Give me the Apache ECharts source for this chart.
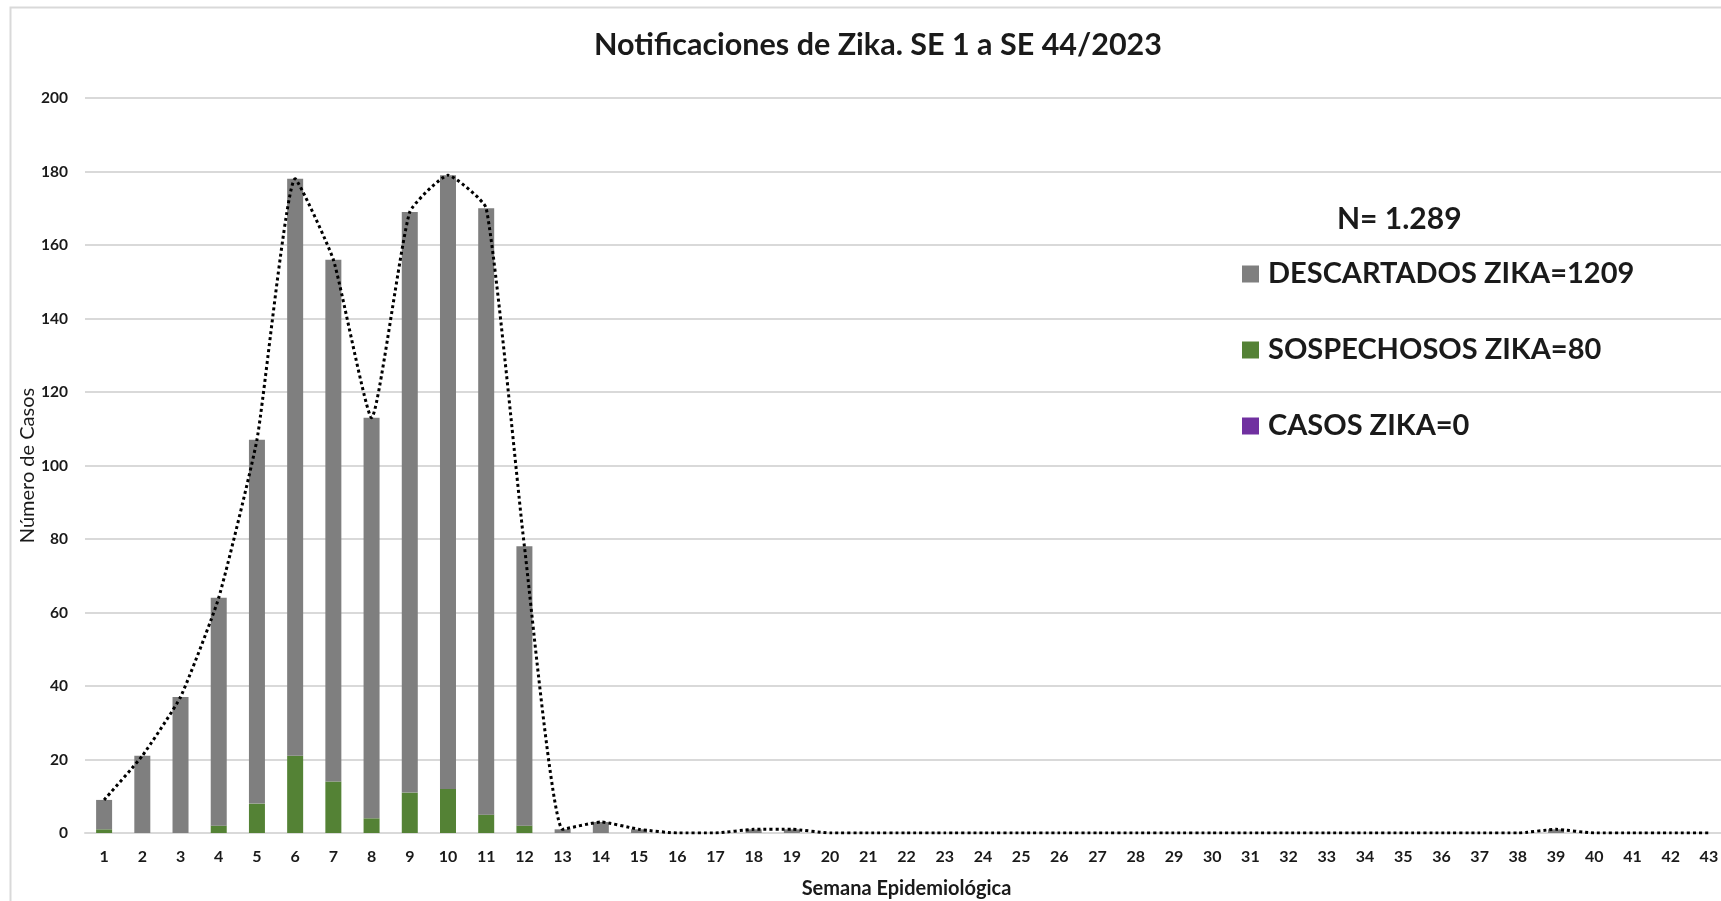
<!DOCTYPE html>
<html>
<head>
<meta charset="utf-8">
<script src="https://cdn.jsdelivr.net/npm/echarts@6/dist/echarts.min.js"></script>
<style>
html,body{margin:0;padding:0;background:#fff;}
#chart{width:1721px;height:901px;}
</style>
</head>
<body>
<div id="chart"></div>
<script>
// ---- data ----
const weeks = ['1','2','3','4','5','6','7','8','9','10','11','12','13','14','15','16','17','18','19','20','21','22','23','24','25','26','27','28','29','30','31','32','33','34','35','36','37','38','39','40','41','42','43'];
const descartados = [8,21,37,62,99,157,142,109,158,167,165,76,1,3,1,0,0,1,1,0,0,0,0,0,0,0,0,0,0,0,0,0,0,0,0,0,0,0,1,0,0,0,0];
const sospechosos = [1,0,0,2,8,21,14,4,11,12,5,2,0,0,0,0,0,0,0,0,0,0,0,0,0,0,0,0,0,0,0,0,0,0,0,0,0,0,0,0,0,0,0];
const casos = [0,0,0,0,0,0,0,0,0,0,0,0,0,0,0,0,0,0,0,0,0,0,0,0,0,0,0,0,0,0,0,0,0,0,0,0,0,0,0,0,0,0,0];
const totales = [9,21,37,64,107,178,156,113,169,179,170,78,1,3,1,0,0,1,1,0,0,0,0,0,0,0,0,0,0,0,0,0,0,0,0,0,0,0,1,0,0,0,0];
const yTicks = [0,20,40,60,80,100,120,140,160,180,200];
const titleText = 'Notificaciones de Zika. SE 1 a SE 44/2023';
const nText = 'N= 1.289';
const names = ['DESCARTADOS ZIKA=1209','SOSPECHOSOS ZIKA=80','CASOS ZIKA=0'];

const FONT = 'Lato';
const chart = echarts.init(document.getElementById('chart'));
chart.setOption({
  backgroundColor: '#fff',
  animation: false,
  graphic: [{
    type: 'rect', silent: true, z: -10,
    shape: {x: 10.5, y: 7.5, width: 1800, height: 1000},
    style: {fill: 'none', stroke: '#d9d9d9', lineWidth: 2}
  }],
  title: [{
    text: titleText, left: 873, top: 25, textAlign: 'center',
    textStyle: {fontFamily: FONT, fontWeight: 'bold', fontSize: 30.5, color: '#1a1a1a'}
  },{
    text: nText, left: 1332, top: 199,
    textStyle: {fontFamily: FONT, fontWeight: 'bold', fontSize: 30, color: '#1a1a1a'}
  }],
  legend: {
    orient: 'vertical', left: 1237, top: 253,
    itemWidth: 17, itemHeight: 17, itemGap: 44, icon: 'rect',
    data: names,
    selectedMode: false,
    textStyle: {fontFamily: FONT, fontWeight: 'bold', fontSize: 29, lineHeight: 32, color: '#1a1a1a', padding: [0,0,0,4]}
  },
  grid: {left: 85, right: -7, top: 98, bottom: 68, containLabel: false, outerBoundsMode: 'none'},
  xAxis: {
    type: 'category', data: weeks,
    name: 'Semana Epidemiológica', nameLocation: 'middle', nameGap: 46, nameMoveOverlap: false,
    nameTextStyle: {fontFamily: FONT, fontWeight: 'bold', fontSize: 20, color: '#1a1a1a'},
    axisLine: {lineStyle: {color: '#d9d9d9', width: 2}},
    axisTick: {show: false},
    axisLabel: {fontFamily: FONT, fontWeight: 'bold', fontSize: 16, color: '#1a1a1a', margin: 16, interval: 0}
  },
  yAxis: {
    type: 'value', min: yTicks[0], max: yTicks[yTicks.length-1], interval: 20,
    name: 'Número de Casos', nameLocation: 'middle', nameGap: 47, nameRotate: 90, nameMoveOverlap: false,
    nameTextStyle: {fontFamily: FONT, fontWeight: 'normal', fontSize: 20, color: '#1a1a1a'},
    axisLine: {show: false}, axisTick: {show: false},
    axisLabel: {fontFamily: FONT, fontWeight: 'bold', fontSize: 15.5, color: '#1a1a1a', margin: 17},
    splitLine: {lineStyle: {color: '#d9d9d9', width: 2}}
  },
  series: [
    {name: names[2], type: 'bar', stack: 's', data: casos, barWidth: 16, itemStyle: {color: '#7030a0'}},
    {name: names[1], type: 'bar', stack: 's', data: sospechosos, barWidth: 16, itemStyle: {color: '#548235'}},
    {name: names[0], type: 'bar', stack: 's', data: descartados, barWidth: 16, itemStyle: {color: '#7f7f7f'}},
    {name: 'Total', type: 'line', data: totales, smooth: 0.15, symbol: 'none', z: 5,
     lineStyle: {color: '#000', width: 3, type: [3,3], cap: 'butt'}}
  ]
});
</script>
</body>
</html>
